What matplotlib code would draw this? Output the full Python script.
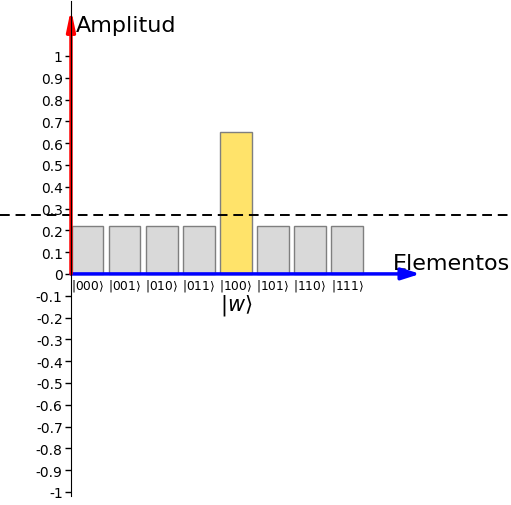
import numpy as np
import matplotlib.pyplot as plt

# amplitudes for the 8 basis states, marked state |100>
estados = ['000', '001', '010', '011', '100', '101', '110', '111']
amplitudes = [0.22, 0.22, 0.22, 0.22, 0.65, 0.22, 0.22, 0.22]
marcado = 4
media = 0.27
y_ticks = np.round(np.arange(-1.0, 1.01, 0.1), 1)

fig = plt.figure(figsize=(5.11, 5.06), dpi=100)
ax = fig.add_axes([0, 0, 1, 1])
ax.set_xlim(-1.915, 11.87)
ax.set_ylim(-1.06, 1.261)

# bars
x = np.arange(len(estados))
colores = ['#ffe36a' if i == marcado else '#d9d9d9' for i in x]
ax.bar(x + 0.02, amplitudes, width=0.855, align='edge', color=colores,
       edgecolor='#7f7f7f', linewidth=1.0, zorder=2)

# mean line
ax.axhline(media, color='black', linestyle=(0, (5, 3)), linewidth=1.4, zorder=3)

# axes arrows
ax.annotate('', xy=(9.42, 0), xytext=(0, 0),
            arrowprops=dict(arrowstyle='-|>,head_length=1.1,head_width=0.35',
                            color='blue', lw=2.5, shrinkA=0, shrinkB=0), zorder=4)
ax.annotate('', xy=(0, 1.215), xytext=(0, 0),
            arrowprops=dict(arrowstyle='-|>,head_length=1.2,head_width=0.25',
                            color='red', lw=2.5, shrinkA=0, shrinkB=0), zorder=4)

# y axis spine through x=0
for s in ['top', 'right', 'bottom']:
    ax.spines[s].set_visible(False)
ax.spines['left'].set_position(('data', 0))
ax.spines['left'].set_bounds(-1.02, 1.25)
ax.spines['left'].set_zorder(5)
ax.set_xticks([])
ax.set_yticks(y_ticks)
ax.set_yticklabels(['%g' % v if v != 0 else '0' for v in y_ticks], fontsize=10)
ax.tick_params(axis='y', length=4, width=1, pad=2)

# ket labels
for i, e in enumerate(estados):
    ax.text(i + 0.45, -0.015, r'$|%s\rangle$' % e, ha='center', va='top', fontsize=8.8)
ax.text(marcado + 0.45, -0.085, r'$|w\rangle$', ha='center', va='top', fontsize=15)

ax.text(0.13, 1.14, 'Amplitud', ha='left', va='center', fontsize=16)
ax.text(8.69, 0.05, 'Elementos', ha='left', va='center', fontsize=16)

fig.savefig('out.png', dpi=100)
